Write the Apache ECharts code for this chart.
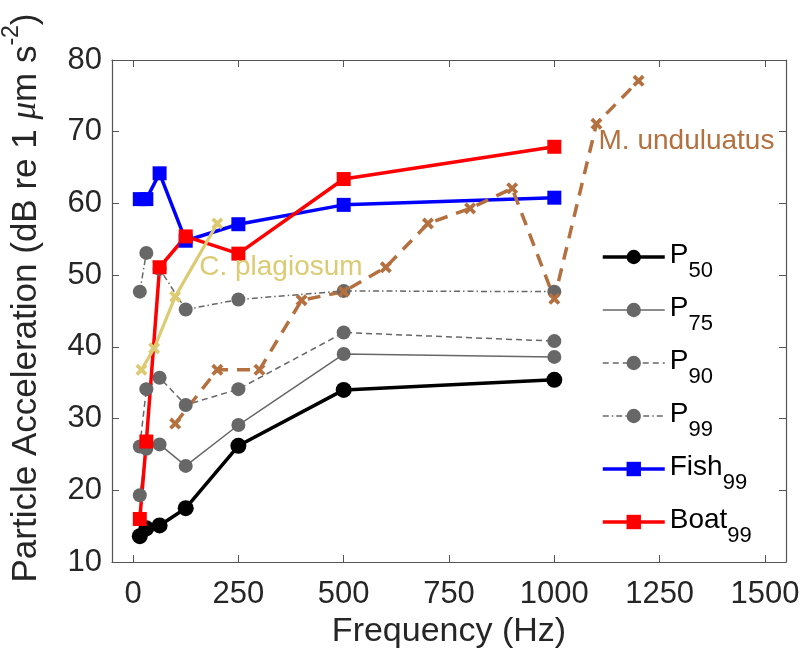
<!DOCTYPE html>
<html>
<head>
<meta charset="utf-8">
<script src="https://cdn.jsdelivr.net/npm/echarts@6/dist/echarts.min.js"></script>
<style>
  html, body { margin: 0; padding: 0; background: #fff; }
  #chart { width: 803px; height: 665px; }
</style>
</head>
<body>
<div id="chart"></div>
<script>
// Octave-band centre frequencies (Hz)
const bandFreq = [16, 31.5, 63, 125, 250, 500, 1000];

// Ambient particle acceleration percentiles (dB re 1 µm s^-2)
const p50 = [13.6, 14.7, 15.1, 17.5, 26.2, 34.0, 35.4];
const p75 = [19.3, 25.8, 26.4, 23.4, 29.1, 39.0, 38.6];
const p90 = [26.1, 34.1, 35.7, 31.9, 34.1, 42.0, 40.8];
const p99 = [47.7, 53.1, 50.9, 45.2, 46.6, 47.8, 47.7];
const fish99 = [60.6, 60.6, 64.2, 54.8, 57.1, 59.8, 60.8];
const boat99 = [16.0, 26.8, 51.1, 55.4, 53.0, 63.4, 67.9];

// Hearing thresholds
const plagFreq = [20, 50, 100, 200];
const plagLevel = [36.8, 39.8, 47.0, 57.2];
const undFreq = [100, 200, 300, 400, 500, 600, 700, 800, 900, 1000, 1100, 1200];
const undLevel = [29.3, 36.8, 36.8, 46.5, 47.7, 51.1, 57.2, 59.3, 62.1, 46.7, 71.1, 77.1];

// Axis ticks
const xTicks = [0, 250, 500, 750, 1000, 1250, 1500];
const yTicks = [10, 20, 30, 40, 50, 60, 70, 80];

// Legend names: base text + subscript
const seriesBase = ['P', 'P', 'P', 'P', 'Fish', 'Boat'];
const seriesSub = ['50', '75', '90', '99', '99', '99'];

const FONT = 'Liberation Sans, Arial, Helvetica, sans-serif';
const AXIS_COLOR = '#555555';
const TEXT_COLOR = '#262626';
const GREY = '#676767';
const KHAKI = '#dccb72';
const SIENNA = '#b4703f';
const CROSS = 'path://M0,2.2L2.2,0L5,2.8L7.8,0L10,2.2L7.2,5L10,7.8L7.8,10L5,7.2L2.2,10L0,7.8L2.8,5Z';

const pairs = (xs, ys) => xs.map((x, i) => [x, ys[i]]);
const seriesName = i => seriesBase[i] + seriesSub[i];

// Line styles for the six legend entries, shared by series and legend icons
const entryLine = [
  { color: '#000000', width: 3.5, type: 'solid' },
  { color: GREY, width: 1.5, type: 'solid' },
  { color: GREY, width: 1.5, type: [6, 4] },
  { color: GREY, width: 1.5, type: [6, 3, 1.5, 3] },
  { color: '#0000ff', width: 3.5, type: 'solid' },
  { color: '#ff0000', width: 3.5, type: 'solid' }
];
const entryColor = ['#000000', GREY, GREY, GREY, '#0000ff', '#ff0000'];
const entrySymbol = ['circle', 'circle', 'circle', 'circle', 'rect', 'rect'];
const entrySize = [16, 14, 14, 14, 14, 14];
const entryData = [p50, p75, p90, p99, fish99, boat99];

function lineSeries(name, xs, ys, opt) {
  return Object.assign({
    name: name,
    type: 'line',
    data: pairs(xs, ys),
    symbol: 'circle',
    symbolSize: 13,
    showAllSymbol: true,
    emphasis: { disabled: true },
    silent: true,
    xAxisIndex: 0,
    yAxisIndex: 0
  }, opt);
}

const series = entryData.map((vals, i) => lineSeries(seriesName(i), bandFreq, vals, {
  symbol: entrySymbol[i],
  symbolSize: entrySize[i],
  itemStyle: { color: entryColor[i] },
  lineStyle: entryLine[i]
}));

series.push(
  lineSeries('C. plagiosum', plagFreq, plagLevel, {
    symbol: CROSS,
    symbolSize: 12,
    itemStyle: { color: KHAKI },
    lineStyle: { color: KHAKI, width: 3.2 },
    markPoint: {
      silent: true,
      symbol: 'circle',
      symbolSize: 0,
      label: {
        show: true, position: 'right', distance: 0,
        formatter: 'C. plagiosum',
        color: KHAKI, fontSize: 28, fontFamily: FONT
      },
      data: [{ coord: [157, 51.1] }]
    }
  }),
  lineSeries('M. unduluatus', undFreq, undLevel, {
    symbol: CROSS,
    symbolSize: 12,
    itemStyle: { color: SIENNA },
    lineStyle: { color: SIENNA, width: 3.5, type: [13, 9] },
    markPoint: {
      silent: true,
      symbol: 'circle',
      symbolSize: 0,
      label: {
        show: true, position: 'right', distance: 0,
        formatter: 'M. unduluatus',
        color: SIENNA, fontSize: 28, fontFamily: FONT
      },
      data: [{ coord: [1105, 68.7] }]
    }
  })
);

const tickStyle = { show: true, inside: true, length: 7, lineStyle: { color: AXIS_COLOR, width: 1 } };
const lineStyleAxis = { show: true, onZero: false, lineStyle: { color: AXIS_COLOR, width: 1.2 } };

const option = {
  animation: false,
  backgroundColor: '#ffffff',
  grid: { left: 112, right: 17, top: 60, bottom: 103, containLabel: false, outerBoundsMode: 'none' },
  xAxis: [
    {
      type: 'value', position: 'bottom', min: -50, max: 1550,
      axisLine: lineStyleAxis,
      axisTick: Object.assign({ customValues: xTicks }, tickStyle),
      axisLabel: {
        customValues: xTicks, formatter: v => String(v),
        fontSize: 31, fontFamily: FONT, color: TEXT_COLOR, margin: 17
      },
      splitLine: { show: false },
      name: 'Frequency (Hz)', nameLocation: 'middle', nameGap: 50,
      nameTextStyle: { fontSize: 34, fontFamily: FONT, color: TEXT_COLOR }
    },
    {
      type: 'value', position: 'top', min: -50, max: 1550,
      axisLine: lineStyleAxis,
      axisTick: Object.assign({ customValues: xTicks }, tickStyle),
      axisLabel: { show: false },
      splitLine: { show: false }
    }
  ],
  yAxis: [
    {
      type: 'value', position: 'left', min: 10, max: 80, interval: 10,
      axisLine: lineStyleAxis,
      axisTick: tickStyle,
      axisLabel: { fontSize: 31, fontFamily: FONT, color: TEXT_COLOR, margin: 10 },
      splitLine: { show: false }
    },
    {
      type: 'value', position: 'right', min: 10, max: 80, interval: 10,
      axisLine: lineStyleAxis,
      axisTick: tickStyle,
      axisLabel: { show: false },
      splitLine: { show: false }
    }
  ],
  legend: {
    data: seriesBase.map((b, i) => ({
      name: seriesName(i),
      itemStyle: { color: entryColor[i] },
      lineStyle: { color: entryLine[i].color, width: entryLine[i].width, type: entryLine[i].type }
    })),
    orient: 'vertical',
    left: 601,
    top: 232,
    padding: 0,
    itemWidth: 62,
    itemHeight: 18,
    itemGap: 3,
    selectedMode: false,
    formatter: name => {
      const i = seriesBase.findIndex((b, k) => seriesName(k) === name);
      return '{p|' + seriesBase[i] + '}{s|' + seriesSub[i] + '}';
    },
    textStyle: {
      color: '#000000',
      fontFamily: FONT,
      rich: {
        p: { fontSize: 28, lineHeight: 28, padding: [9, 0, 13, 0], fontFamily: FONT, color: '#000' },
        s: { fontSize: 22, lineHeight: 22, padding: [28, 0, 0, 0], fontFamily: FONT, color: '#000' }
      }
    }
  },
  graphic: [
    {
      type: 'text',
      x: 22,
      y: 298,
      rotation: Math.PI / 2,
      silent: true,
      style: {
        text: '{n|Particle Acceleration (dB re 1 }{mu|\u03bc}{n|m s}{sup|-2}{n|)}',
        align: 'center',
        verticalAlign: 'middle',
        fill: TEXT_COLOR,
        rich: {
          n: { fontSize: 35, lineHeight: 35, padding: [8, 0, 0, 0], fontFamily: FONT, fill: TEXT_COLOR },
          mu: { fontSize: 35, lineHeight: 35, padding: [8, 0, 0, 0], fontFamily: 'Liberation Serif, serif', fontStyle: 'italic', fill: TEXT_COLOR },
          sup: { fontSize: 23, lineHeight: 23, padding: [0, 0, 20, 0], fontFamily: FONT, fill: TEXT_COLOR }
        }
      }
    }
  ],
  series: series
};

const chart = echarts.init(document.getElementById('chart'), null, { renderer: 'canvas' });
chart.setOption(option);
</script>
</body>
</html>
